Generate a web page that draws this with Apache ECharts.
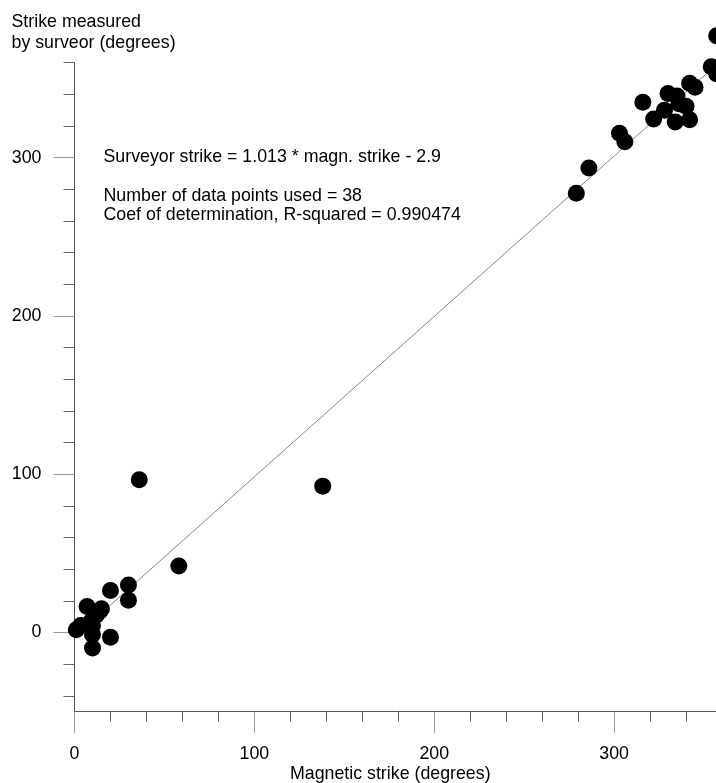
<!DOCTYPE html>
<html>
<head>
<meta charset="utf-8">
<script src="https://cdn.jsdelivr.net/npm/echarts@6/dist/echarts.min.js"></script>
<style>
  html, body { margin: 0; padding: 0; background: #fff; }
  #main { width: 716px; height: 783px; }
</style>
</head>
<body>
<div id="main"></div>
<script>
// magnetic strike vs strike measured by the surveyor (degrees)
var magneticStrike = [1, 3.5, 7, 9.5, 12, 14, 15, 10, 10, 10, 20, 20, 30, 30,
  36, 58, 138,
  279, 286, 303, 306, 316, 322, 328, 330, 335, 336, 334, 340, 342, 342, 345, 354, 357, 357];
var surveyorStrike = [1.8, 4.5, 16.5, 7.5, 11, 13.5, 15, 4.5, -1.3, -9.7, -3, 26.5, 30, 20.4,
  96.5, 42, 92.5,
  277.5, 293.5, 315.5, 310, 335, 324.5, 330, 340.5, 339, 334, 322.5, 332.5, 324, 347, 344.5, 357.5, 353, 377];

// fit from the annotation
var slope = 1.013;
var intercept = -2.9;

var minorTicksX = [20, 40, 60, 80, 120, 140, 160, 180, 220, 240, 260, 280, 320, 340];
var minorTicksY = [-40, -20, 20, 40, 60, 80, 120, 140, 160, 180, 220, 240, 260, 280, 320, 340, 360];
var majorTicks = [0, 100, 200, 300];

var points = magneticStrike.map(function (x, i) { return [x, surveyorStrike[i]]; });
var xMin = Math.min.apply(null, magneticStrike);
var xMax = Math.max.apply(null, magneticStrike);
var fitLine = [[xMin, slope * xMin + intercept], [xMax, slope * xMax + intercept]];

var font = 'Liberation Sans, Arial, sans-serif';
var fs = 17.8;

var chart = echarts.init(document.getElementById('main'));
chart.setOption({
  animation: false,
  backgroundColor: '#fff',
  title: {
    text: 'Strike measured\nby surveor (degrees)',
    left: 11.5, top: 12,
    padding: 0,
    textStyle: { fontFamily: font, fontSize: fs, fontWeight: 'normal', color: '#000', lineHeight: 21 }
  },
  graphic: [{
    type: 'text',
    left: 103.5, top: 147,
    style: {
      text: 'Surveyor strike = 1.013 * magn. strike - 2.9\n\nNumber of data points used = 38\nCoef of determination, R-squared = 0.990474',
      font: fs + 'px ' + font,
      fill: '#000',
      lineHeight: 19.5
    }
  }],
  grid: { left: 74.5, right: -6, top: 62.7, bottom: 71.3, outerBoundsMode: 'none', containLabel: false },
  xAxis: [{
    type: 'value', min: 0, max: 360, position: 'bottom',
    axisLine: { onZero: false, lineStyle: { color: '#555' } },
    axisTick: { customValues: minorTicksX, length: 10, lineStyle: { color: '#666' } },
    axisLabel: { show: false },
    splitLine: { show: false }
  }, {
    type: 'value', min: 0, max: 360, position: 'bottom',
    axisLine: { show: false, onZero: false },
    axisTick: { customValues: majorTicks, length: 21, lineStyle: { color: '#999' } },
    axisLabel: { customValues: majorTicks, margin: 33, fontFamily: font, fontSize: fs, color: '#000' },
    splitLine: { show: false },
    name: 'Magnetic strike (degrees)',
    nameLocation: 'middle',
    nameGap: 53,
    nameMoveOverlap: false,
    nameTextStyle: { fontFamily: font, fontSize: fs, color: '#000', padding: [0, 16, 0, 0] }
  }],
  yAxis: [{
    type: 'value', min: -50, max: 360, position: 'left',
    axisLine: { show: true, onZero: false, lineStyle: { color: '#555' } },
    axisTick: { show: true, customValues: minorTicksY, length: 11, lineStyle: { color: '#666' } },
    axisLabel: { show: false },
    splitLine: { show: false }
  }, {
    type: 'value', min: -50, max: 360, position: 'left',
    axisLine: { show: false, onZero: false },
    axisTick: { show: true, customValues: majorTicks, length: 21, lineStyle: { color: '#999' } },
    axisLabel: { customValues: majorTicks, margin: 33, fontFamily: font, fontSize: fs, color: '#000' },
    splitLine: { show: false }
  }],
  series: [{
    type: 'line',
    data: fitLine,
    showSymbol: false,
    lineStyle: { color: '#888', width: 1 },
    z: 1,
    silent: true
  }, {
    type: 'scatter',
    data: points,
    symbolSize: 17,
    itemStyle: { color: '#000', opacity: 1 },
    clip: false,
    z: 2
  }]
});
</script>
</body>
</html>
